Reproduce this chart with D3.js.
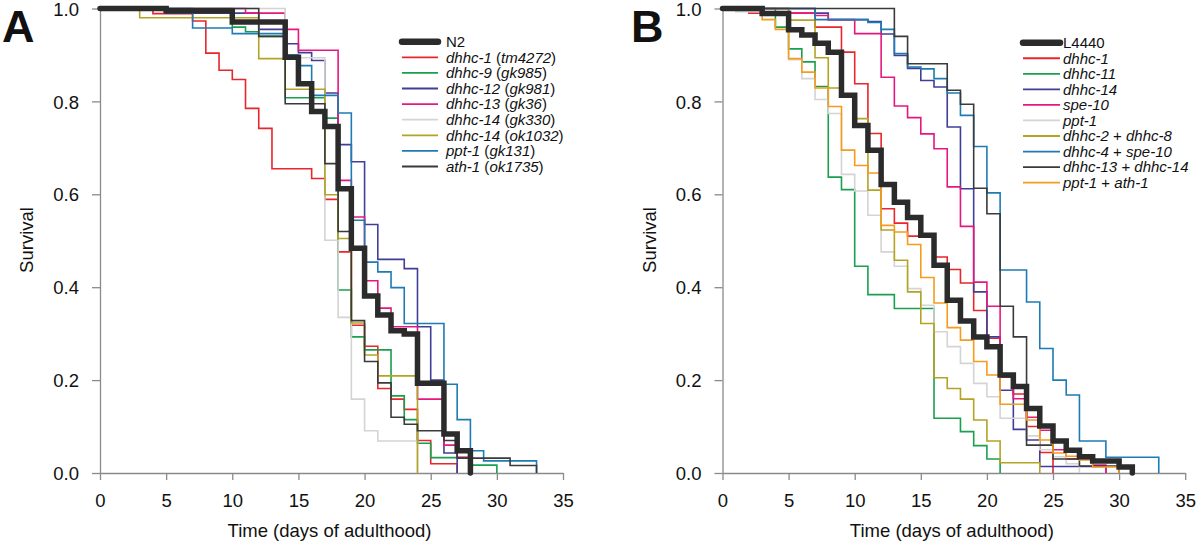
<!DOCTYPE html>
<html>
<head>
<meta charset="utf-8">
<script src="https://cdnjs.cloudflare.com/ajax/libs/d3/7.8.5/d3.min.js"></script>
<style>
html,body{margin:0;padding:0;background:#fff;}
svg{display:block;font-family:"Liberation Sans",Arial,sans-serif;}
</style>
</head>
<body>
<svg id="chart" width="1200" height="547"></svg>
<script>
// ---------- tick labels ----------
const xTicks = [0, 5, 10, 15, 20, 25, 30, 35];
const yTicks = [0, 0.2, 0.4, 0.6, 0.8, 1.0];

// ---------- Panel A ----------
const A_N2_t   = [0,5,10,14,15,16,17,18,19,20,21,22,23,24,26,27,28];
const A_N2_s   = [1,0.995,0.971,0.895,0.838,0.778,0.746,0.612,0.484,0.381,0.34,0.306,0.299,0.193,0.084,0.048,0];
const A_dhhc1_t  = [0,4,7,8,9,10,11,12,13,16,17,18,19,20,21,22,23,24,25,27];
const A_dhhc1_s  = [1,0.989,0.973,0.904,0.867,0.847,0.785,0.742,0.655,0.634,0.589,0.476,0.318,0.273,0.182,0.159,0.137,0.07,0.02,0];
const A_dhhc9_t  = [0,10,11,12,14,17,18,19,20,22,23,24,25,28,30];
const A_dhhc9_s  = [1,0.96,0.95,0.94,0.808,0.764,0.394,0.293,0.265,0.166,0.115,0.064,0.033,0.017,0];
const A_dhhc12_t = [0,5,12,14,15,16,17,18,19,20,21,23,24,25,26,27];
const A_dhhc12_s = [1,0.99,0.955,0.924,0.905,0.888,0.818,0.707,0.67,0.535,0.46,0.44,0.315,0.2,0.043,0];
const A_dhhc13_t = [0,11,14,15,18,19,20,21,22,24,26,27,28];
const A_dhhc13_s = [1,0.99,0.955,0.91,0.63,0.551,0.414,0.355,0.315,0.159,0.06,0.034,0];
const A_dhhc14a_t = [0,14,17,18,19,20,21,24];
const A_dhhc14a_s = [1,0.894,0.501,0.335,0.159,0.091,0.069,0];
const A_dhhc14b_t = [0,3,12,14,17,18,19,20,21,24];
const A_dhhc14b_s = [1,0.98,0.892,0.826,0.599,0.505,0.323,0.254,0.209,0];
const A_ppt1_t = [0,7,10,14,15,16,18,19,20,21,22,23,26,27,28,29,33];
const A_ppt1_s = [1,0.958,0.946,0.9,0.877,0.813,0.775,0.544,0.454,0.433,0.399,0.322,0.191,0.115,0.048,0.026,0];
const A_ath1_t = [0,12,14,17,18,19,20,21,22,23,24,26,27,31,33];
const A_ath1_s = [1,0.94,0.795,0.666,0.52,0.328,0.24,0.194,0.12,0.105,0.091,0.07,0.032,0.016,0];

const A_names = [["N2",""],["dhhc-1","tm4272"],["dhhc-9","gk985"],["dhhc-12","gk981"],["dhhc-13","gk36"],["dhhc-14","gk330"],["dhhc-14","ok1032"],["ppt-1","gk131"],["ath-1","ok1735"]];

// ---------- Panel B ----------
const B_L4440_t = [0,3,5,6,7,8,9,10,11,12,13,14,15,16,17,18,19,20,21,22,23,24,25,26,27,28,30,31];
const B_L4440_s = [1,0.989,0.954,0.943,0.925,0.906,0.813,0.748,0.695,0.621,0.583,0.55,0.512,0.447,0.372,0.327,0.293,0.272,0.211,0.186,0.139,0.101,0.069,0.049,0.035,0.026,0.013,0];
const B_dhhc1_t  = [0,2,7,9,10,11,12,13,14,16,17,18,19,20,21,22,23,24,25];
const B_dhhc1_s  = [1,0.99,0.96,0.906,0.838,0.731,0.569,0.538,0.51,0.465,0.438,0.409,0.35,0.29,0.206,0.17,0.1,0.044,0];
const B_dhhc11_t = [0,4,5,6,7,8,9,10,11,13,16,18,19,20,21];
const B_dhhc11_s = [1,0.96,0.913,0.885,0.832,0.637,0.61,0.445,0.384,0.354,0.118,0.089,0.059,0.03,0];
const B_dhhc14_t = [0,7,8,11,12,13,14,15,16,17,18,19,20,21,22,23,24,29];
const B_dhhc14_s = [1,0.99,0.976,0.972,0.945,0.899,0.871,0.845,0.831,0.745,0.612,0.39,0.293,0.178,0.094,0.071,0.014,0];
const B_spe10_t = [0,5,7,8,10,12,13,14,15,16,17,18,19,20,21,22,23,24,25,26,28,29];
const B_spe10_s = [1,0.99,0.985,0.976,0.946,0.852,0.79,0.765,0.73,0.698,0.616,0.531,0.411,0.359,0.207,0.16,0.12,0.092,0.05,0.03,0.017,0];
const B_ppt1_t = [0,1,5,6,7,8,9,10,11,12,13,14,15,16,17,18,19,20,21,23,24,25,26,27];
const B_ppt1_s = [1,0.993,0.89,0.849,0.804,0.774,0.643,0.607,0.555,0.476,0.445,0.397,0.361,0.304,0.272,0.236,0.193,0.164,0.118,0.08,0.05,0.035,0.02,0];
const B_d2d8_t = [0,5,7,8,9,10,11,12,13,14,15,16,17,18,19,20,21,24];
const B_d2d8_s = [1,0.975,0.894,0.829,0.809,0.763,0.609,0.523,0.458,0.39,0.322,0.205,0.182,0.159,0.114,0.069,0.022,0];
const B_d4s10_t = [0,7,11,12,13,14,15,16,17,18,19,20,21,23,24,25,26,27,29,33];
const B_d4s10_s = [1,0.976,0.97,0.955,0.903,0.874,0.87,0.849,0.818,0.77,0.703,0.603,0.437,0.368,0.268,0.2,0.168,0.069,0.034,0];
const B_d13d14_t = [0,13,14,17,18,19,20,21,22,23,25,27,30];
const B_d13d14_s = [1,0.94,0.881,0.824,0.794,0.613,0.558,0.359,0.293,0.06,0.03,0.015,0];
const B_pptath_t = [0,3,4,5,6,7,8,9,10,11,12,13,14,15,16,17,18,19,20,21,23,24,25,26,27,28,30];
const B_pptath_s = [1,0.976,0.955,0.892,0.863,0.829,0.789,0.695,0.662,0.646,0.533,0.519,0.492,0.421,0.366,0.313,0.286,0.24,0.211,0.148,0.114,0.071,0.043,0.036,0.028,0.013,0];

const B_names = [["L4440"],["dhhc-1"],["dhhc-11"],["dhhc-14"],["spe-10"],["ppt-1"],["dhhc-2"," + ","dhhc-8"],["dhhc-4"," + ","spe-10"],["dhhc-13"," + ","dhhc-14"],["ppt-1"," + ","ath-1"]];

// ---------- colours ----------
const colThick = "#2b2b2b";
const A_colors = [colThick,"#e8262b","#19a04f","#403f98","#e6187f","#d4d4d4","#b3a424","#1e7bb3","#3a3a3a"];
const B_colors = [colThick,"#e8262b","#19a04f","#403f98","#e6187f","#d4d4d4","#b3a424","#1e7bb3","#3a3a3a","#f59c1f"];

const A_series = [
  [A_N2_t,A_N2_s],[A_dhhc1_t,A_dhhc1_s],[A_dhhc9_t,A_dhhc9_s],[A_dhhc12_t,A_dhhc12_s],
  [A_dhhc13_t,A_dhhc13_s],[A_dhhc14a_t,A_dhhc14a_s],[A_dhhc14b_t,A_dhhc14b_s],
  [A_ppt1_t,A_ppt1_s],[A_ath1_t,A_ath1_s]];
const B_series = [
  [B_L4440_t,B_L4440_s],[B_dhhc1_t,B_dhhc1_s],[B_dhhc11_t,B_dhhc11_s],[B_dhhc14_t,B_dhhc14_s],
  [B_spe10_t,B_spe10_s],[B_ppt1_t,B_ppt1_s],[B_d2d8_t,B_d2d8_s],[B_d4s10_t,B_d4s10_s],
  [B_d13d14_t,B_d13d14_s],[B_pptath_t,B_pptath_s]];

const svg = d3.select("#chart");
const axisCol = "#8a8a8a";

function panel(opt){
  const x = d3.scaleLinear().domain([0,35]).range([opt.x0, opt.x1]);
  const y = d3.scaleLinear().domain([0,1]).range([473, 8.5]);
  const g = svg.append("g");

  // y axis
  const ya = g.append("g").attr("transform",`translate(${opt.x0},0)`)
    .call(d3.axisLeft(y).tickValues(yTicks).tickFormat(d3.format(".1f")).tickSize(8).tickSizeOuter(0).tickPadding(13));
  // x axis
  const xa = g.append("g").attr("transform",`translate(0,473)`)
    .call(d3.axisBottom(x).tickValues(xTicks).tickSize(7).tickSizeOuter(0).tickPadding(14));
  [ya,xa].forEach(a=>{
    a.selectAll("path,line").attr("stroke",axisCol).attr("stroke-width",1.3);
    a.selectAll("text").attr("fill","#111").style("font-size","18.5px").style("font-family","'Liberation Sans',Arial,sans-serif");
  });
  ya.selectAll("text").attr("dy","0.36em");

  // axis titles
  g.append("text").attr("x",(opt.x0+opt.x1)/2 - 2).attr("y",537)
    .attr("text-anchor","middle").style("font-size","18.5px").attr("fill","#111")
    .text("Time (days of adulthood)");
  g.append("text").attr("transform",`translate(${opt.x0-67},240) rotate(-90)`)
    .attr("text-anchor","middle").style("font-size","18.5px").attr("fill","#111")
    .text("Survival");
  // panel letter
  g.append("text").attr("x",opt.letterX).attr("y",42).style("font-size","45px")
    .style("font-weight","bold").attr("fill","#111").text(opt.letter);

  const line = d3.line().x(d=>x(d[0])).y(d=>y(d[1])).curve(d3.curveStepAfter);
  const order = d3.range(1,opt.series.length).concat([0]);
  order.forEach(i=>{
    const [t,s] = opt.series[i];
    const pts = t.map((v,k)=>[v,s[k]]);
    g.append("path").attr("d",line(pts)).attr("fill","none")
      .attr("stroke",opt.colors[i])
      .attr("stroke-width", i===0 ? 5.5 : 1.6)
      .attr("stroke-linecap", i===0 ? "round" : "butt");
  });

  // legend
  const lg = g.append("g");
  opt.names.forEach((nm,i)=>{
    const yy = opt.legY + i*opt.legDy;
    lg.append("line").attr("x1",opt.legX).attr("x2",opt.legX+opt.legLen)
      .attr("y1",yy).attr("y2",yy).attr("stroke",opt.colors[i])
      .attr("stroke-width", i===0 ? 6.5 : 1.8).attr("stroke-linecap", i===0 ? "round":"butt");
    const tx = lg.append("text").attr("x",opt.legX+opt.legLen+opt.legGap).attr("y",yy+5.3)
      .style("font-size","15px").attr("fill","#111");
    opt.legendText(tx, nm, i);
  });
}

panel({x0:100, x1:563, letter:"A", letterX:2, series:A_series, colors:A_colors, names:A_names,
  legX:402, legLen:36, legGap:8, legY:41.7, legDy:15.6,
  legendText:(tx,nm,i)=>{
    if(i===0){ tx.text(nm[0]); return; }
    tx.append("tspan").style("font-style","italic").text(nm[0]);
    tx.append("tspan").text(" (");
    tx.append("tspan").style("font-style","italic").text(nm[1]);
    tx.append("tspan").text(")");
  }});

panel({x0:722.5, x1:1185.2, letter:"B", letterX:631, series:B_series, colors:B_colors, names:B_names,
  legX:1023, legLen:37, legGap:3, legY:42.7, legDy:15.55,
  legendText:(tx,nm,i)=>{
    if(i===0){ tx.text(nm[0]); return; }
    nm.forEach((p,k)=>{
      tx.append("tspan").style("font-style", k===1 ? "normal":"italic").text(p);
    });
  }});
</script>
</body>
</html>
